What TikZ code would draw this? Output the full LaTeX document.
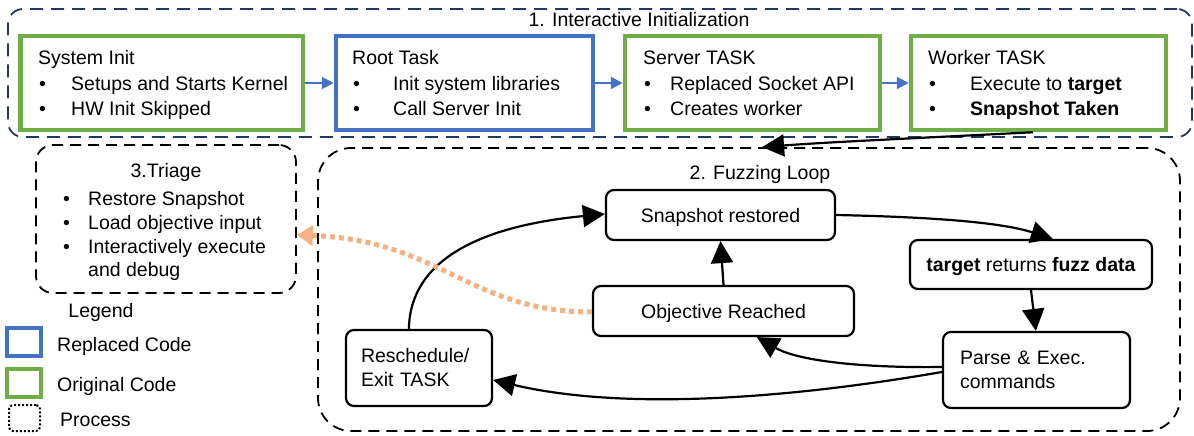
\documentclass[tikz,border=0pt]{standalone}
\usepackage{fontspec}
\setmainfont{Liberation Sans}
\usetikzlibrary{arrows.meta,calc}
\newcommand\myfs{\fontsize{19.5}{24}\selectfont}
\definecolor{cgreen}{HTML}{70AD47}
\definecolor{cblue}{HTML}{4472C4}
\definecolor{cnavy}{HTML}{203864}
\definecolor{corange}{HTML}{F4B183}
\begin{document}
\begin{tikzpicture}[x=1pt,y=-1pt,
  txt/.style={inner sep=0pt, anchor=base west, font=\myfs},
  ctxt/.style={inner sep=0pt, anchor=base, font=\myfs},
  codebox/.style={draw, line width=4.5pt, inner sep=0pt},
  greenbox/.style={codebox, draw=cgreen},
  bluebox/.style={codebox, draw=cblue},
  phase/.style={draw=black, line width=1.8pt, dash pattern=on 11pt off 7pt, inner sep=0pt},
  stepbox/.style={draw=black, line width=2.2pt, rounded corners=8pt, inner sep=6pt, font=\myfs, text height=14pt, text depth=0pt},
  barr/.style={draw=cblue, line width=2pt, -{Triangle[length=12pt,width=12pt]}},
  karr/.style={draw=black, line width=2.2pt, -{Triangle[length=22pt,width=22pt]}},
  oarr/.style={draw=corange, line width=5pt, dash pattern=on 5pt off 4pt, -{Triangle[length=16pt,width=20pt]}}
]
\useasboundingbox (0,0) rectangle (1194,436);

% phase 1 container
\node[draw=cnavy, line width=1.8pt, dash pattern=on 13pt off 8pt, rounded corners=15pt,
      minimum width=1184pt, minimum height=128pt, inner sep=0pt] (init) at (600,73) {};
\node[ctxt] (initlbl) at (639,27) {1. Interactive Initialization};

% init boxes
\node[greenbox, minimum width=282.5pt, minimum height=94pt] (sys) at (161.75,83) {};
\node[bluebox, minimum width=257pt, minimum height=94pt] (root) at (464.5,83) {};
\node[greenbox, minimum width=255pt, minimum height=94pt] (server) at (752.5,83) {};
\node[greenbox, minimum width=255pt, minimum height=94pt] (worker) at (1038.5,83) {};

\node[txt] at (38,64) {System Init};
\node[txt] at (39,90) {\textbullet};
\node[txt] at (71,90) {Setups and Starts Kernel};
\node[txt] at (39,115) {\textbullet};
\node[txt] at (71,115) {HW Init Skipped};

\node[txt] at (352,64) {Root Task};
\node[txt] at (353,90) {\textbullet};
\node[txt] at (393,90) {Init system libraries};
\node[txt] at (353,115) {\textbullet};
\node[txt] at (393,115) {Call Server Init};

\node[txt] at (643,64) {Server TASK};
\node[txt] at (644,90) {\textbullet};
\node[txt] at (670,90) {Replaced Socket API};
\node[txt] at (644,115) {\textbullet};
\node[txt] at (670,115) {Creates worker};

\node[txt] at (928,64) {Worker TASK};
\node[txt] at (929,90) {\textbullet};
\node[txt] at (970,90) {Execute to \textbf{target}};
\node[txt] at (929,115) {\textbullet};
\node[txt] at (970,115) {\textbf{Snapshot Taken}};

\draw[barr] (sys.east) -- (root.west);
\draw[barr] (root.east) -- (server.west);
\draw[barr] (server.east) -- (worker.west);

% triage
\node[phase, rounded corners=17pt, minimum width=260pt, minimum height=148pt] (triage) at (166,219) {};
\node[ctxt] at (166,177) {3.Triage};
\node[txt] at (63,205) {\textbullet};
\node[txt] at (88,205) {Restore Snapshot};
\node[txt] at (63,229) {\textbullet};
\node[txt] at (88,229) {Load objective input};
\node[txt] at (63,253) {\textbullet};
\node[txt] at (88,253) {Interactively execute};
\node[txt] at (88,276) {and debug};

% legend
\node[ctxt] at (101,317) {Legend};
\node[bluebox, line width=4pt, minimum width=34pt, minimum height=28pt] (lgblue) at (24,342) {};
\node[txt] at (57,351) {Replaced Code};
\node[greenbox, line width=4pt, minimum width=34pt, minimum height=28pt] (lggreen) at (24,382.5) {};
\node[txt] at (57,391) {Original Code};
\node[draw=black, line width=2pt, dotted, rounded corners=4pt, minimum width=31pt, minimum height=26pt, inner sep=0pt] (lgproc) at (24.5,418) {};
\node[txt] at (60,426) {Process};

% fuzzing loop
\node[phase, rounded corners=33pt, minimum width=862pt, minimum height=283pt] (fuzz) at (749,289.5) {};
\node[ctxt] at (760,179) {2. Fuzzing Loop};

\node[stepbox, minimum width=229pt, minimum height=50pt] (snap) at (720.5,215) {Snapshot restored};
\node[stepbox, minimum width=242pt, minimum height=49pt] (target) at (1031,264.5) {\textbf{target} returns \textbf{fuzz data}};
\node[stepbox, minimum width=261pt, minimum height=50pt] (obj) at (723.5,311) {Objective Reached};
\node[stepbox, minimum width=187pt, minimum height=76pt, text width=153pt, align=left, text height=, text depth=] (parse) at (1036.5,370) {Parse \& Exec.\\commands};
\node[stepbox, minimum width=146pt, minimum height=76pt, text width=116pt, align=left, text height=, text depth=] (resched) at (419,368) {Reschedule/\\Exit TASK};

% connectors
\draw[karr] ($(worker.south west)+(124,0)$) .. controls (900,139) and (830,142) .. ($(fuzz.north west)+(445,0)$);
\draw[karr] (snap.east) .. controls (930,217) and (1000,222) .. ($(target.north west)+(144,0)$);
\draw[karr] (target.south) -- ($(parse.north west)+(94,0)$);
\draw[karr] ($(parse.west)+(0,-3)$) .. controls (870,368) and (800,362) .. ($(obj.south west)+(165,0)$);
\draw[karr] ($(parse.west)+(0,2)$) .. controls (780,400) and (620,410) .. ($(resched.east)+(0,12)$);
\draw[karr] ($(resched.north west)+(64,0)$) .. controls (410,260) and (480,226) .. ($(snap.west)+(0,-1)$);
\draw[karr] (obj.north) -- (snap.south);
\draw[oarr] ($(obj.west)+(0,1)$) .. controls (470,312) and (440,240) .. ($(triage.east)+(0,16)$);
\end{tikzpicture}
\end{document}
